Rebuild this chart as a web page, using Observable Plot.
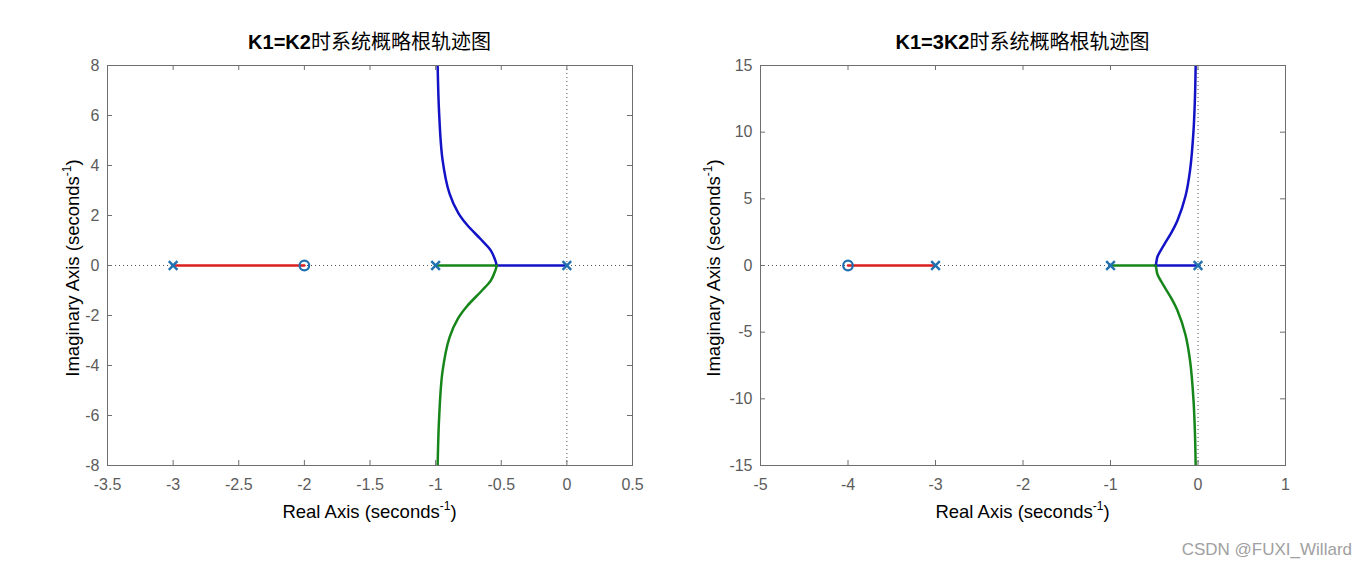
<!DOCTYPE html>
<html>
<head>
<meta charset="utf-8">
<script src="https://cdn.jsdelivr.net/npm/d3@7"></script>
<script src="https://cdn.jsdelivr.net/npm/@observablehq/plot@0.6"></script>
<style>
  html, body { margin: 0; padding: 0; background: #fff; }
  #root { position: relative; width: 1366px; height: 570px; overflow: hidden; font-family: "Liberation Sans", Arial, sans-serif; }
  .panel { position: absolute; top: 0; }
  .title { position: absolute; top: 40px; transform: translate(-50%, -50%); white-space: nowrap; font-size: 20px; color: #000; }
  .title b { font-family: "Liberation Sans", Arial, sans-serif; font-weight: bold; }
  .title span { font-family: "Noto Sans CJK SC", sans-serif; font-weight: 400; }
  .xlabel { position: absolute; top: 512px; transform: translate(-50%, -50%); white-space: nowrap; font-size: 18.5px; color: #000; }
  .ylabel { position: absolute; top: 268px; transform: translate(-50%, -50%) rotate(-90deg); white-space: nowrap; font-size: 18.5px; color: #000; }
  sup { font-size: 12px; vertical-align: 8px; line-height: 0; }
  .wm { position: absolute; right: 14px; top: 540px; font-size: 17px; color: #a0a0a0; font-family: "Liberation Sans", Arial, sans-serif; }
</style>
</head>
<body>
<div id="root"></div>
<script>
// ---------- Data ----------
// Left panel: K1 = K2
const leftTitleBold = "K1=K2";
const leftTitleRest = "时系统概略根轨迹图";
const leftXTicks = [-3.5, -3, -2.5, -2, -1.5, -1, -0.5, 0, 0.5];
const leftYTicks = [-8, -6, -4, -2, 0, 2, 4, 6, 8];
const leftPoles = [0, -1, -3];
const leftZeros = [-2];
const leftRedX = [-3, -2];
const leftGreenRealX = [-1, -0.534];
const leftBlueRealX = [0, -0.534];
const leftCurveX = [-0.534, -0.546, -0.580, -0.652, -0.761, -0.828, -0.894, -0.948, -0.974, -0.9844, -0.9855];
const leftBlueUpY = [0, 0.214, 0.607, 1.029, 1.628, 2.106, 2.871, 4.257, 6.17, 7.94, 8.25];
const leftGreenDownY = [0, -0.214, -0.607, -1.029, -1.628, -2.106, -2.871, -4.257, -6.17, -7.94, -8.25];

// Right panel: K1 = 3K2
const rightTitleBold = "K1=3K2";
const rightTitleRest = "时系统概略根轨迹图";
const rightXTicks = [-5, -4, -3, -2, -1, 0, 1];
const rightYTicks = [-15, -10, -5, 0, 5, 10, 15];
const rightPoles = [0, -1, -3];
const rightZeros = [-4];
const rightRedX = [-3, -4];
const rightGreenRealX = [-1, -0.485];
const rightBlueRealX = [0, -0.485];
const rightCurveX = [-0.485, -0.478, -0.4635, -0.39, -0.309, -0.236, -0.1435, -0.089, -0.051, -0.034, -0.026];
const rightBlueUpY = [0, 0.17, 0.66, 1.53, 2.41, 3.36, 5.19, 7.23, 10.13, 12.76, 15.26];
const rightGreenDownY = [0, -0.17, -0.66, -1.53, -2.41, -3.36, -5.19, -7.23, -10.13, -12.76, -15.26];

const xLabelText = "Real Axis (seconds";
const yLabelText = "Imaginary Axis (seconds";
const watermark = "CSDN @FUXI_Willard";

// ---------- Styles ----------
const RED = "#dc1f1f", GREEN = "#17861a", BLUE = "#1212c6", MARK = "#2170b0";
const FRAME = "#6e6e6e", TICKTEXT = "#5c5c5c";

function panel(cfg) {
  const straight = [];
  const curves = [];
  cfg.redX.forEach(x => straight.push({x, y: 0, b: "red", c: RED}));
  cfg.greenRealX.forEach(x => straight.push({x, y: 0, b: "greenR", c: GREEN}));
  cfg.blueRealX.forEach(x => straight.push({x, y: 0, b: "blueR", c: BLUE}));
  cfg.curveX.forEach((x, i) => curves.push({x, y: cfg.blueUpY[i], b: "blueC", c: BLUE}));
  cfg.curveX.forEach((x, i) => curves.push({x, y: cfg.greenDownY[i], b: "greenC", c: GREEN}));
  const fmt = d => String(d);
  const plotH = 570 - 65 - 105;
  const plotW = 525;
  return Plot.plot({
    width: 683, height: 570,
    marginTop: 65, marginBottom: 105, marginLeft: cfg.ml, marginRight: 683 - cfg.ml - plotW,
    style: {fontFamily: "'Liberation Sans', Arial, sans-serif", background: "#fff", overflow: "visible"},
    x: {domain: cfg.xDomain, ticks: cfg.xTicks},
    y: {domain: cfg.yDomain, ticks: cfg.yTicks},
    marks: [
      Plot.ruleY([0], {stroke: "#555", strokeWidth: 1, strokeDasharray: "1,3"}),
      Plot.ruleX([0], {stroke: "#555", strokeWidth: 1, strokeDasharray: "1,3"}),
      Plot.line(straight, {x: "x", y: "y", z: "b", stroke: "c", strokeWidth: 2.5, clip: true}),
      Plot.line(curves, {x: "x", y: "y", z: "b", stroke: "c", strokeWidth: 2.5, curve: "catmull-rom", clip: true}),
      Plot.dot(cfg.poles, {x: d => d, y: () => 0, symbol: "times", r: 4, stroke: MARK, strokeWidth: 2.4}),
      Plot.dot(cfg.zeros, {x: d => d, y: () => 0, symbol: "circle", r: 4.8, stroke: MARK, fill: "none", strokeWidth: 2.2}),
      Plot.frame({stroke: FRAME, strokeWidth: 1}),
      Plot.ruleX(cfg.xTicks, {x: d => d, stroke: FRAME, insetTop: plotH - 5}),
      Plot.ruleX(cfg.xTicks, {x: d => d, stroke: FRAME, insetBottom: plotH - 5}),
      Plot.ruleY(cfg.yTicks, {y: d => d, stroke: FRAME, insetRight: plotW - 5}),
      Plot.ruleY(cfg.yTicks, {y: d => d, stroke: FRAME, insetLeft: plotW - 5}),
      Plot.axisX({ticks: cfg.xTicks, tickSize: 0, tickPadding: 13, tickFormat: fmt, fontSize: 16, fill: TICKTEXT, label: null}),
      Plot.axisY({ticks: cfg.yTicks, tickSize: 0, tickPadding: 8, tickFormat: fmt, fontSize: 16, fill: TICKTEXT, label: null})
    ]
  });
}

const root = document.getElementById("root");

const panels = [
  {left: 0, ml: 107, xDomain: [-3.5, 0.5], yDomain: [-8, 8], xTicks: leftXTicks, yTicks: leftYTicks,
   poles: leftPoles, zeros: leftZeros, redX: leftRedX, greenRealX: leftGreenRealX, blueRealX: leftBlueRealX,
   curveX: leftCurveX, blueUpY: leftBlueUpY, greenDownY: leftGreenDownY, tb: leftTitleBold, tr: leftTitleRest, ylx: 73},
  {left: 683, ml: 77, xDomain: [-5, 1], yDomain: [-15, 15], xTicks: rightXTicks, yTicks: rightYTicks,
   poles: rightPoles, zeros: rightZeros, redX: rightRedX, greenRealX: rightGreenRealX, blueRealX: rightBlueRealX,
   curveX: rightCurveX, blueUpY: rightBlueUpY, greenDownY: rightGreenDownY, tb: rightTitleBold, tr: rightTitleRest, ylx: 714}
];

panels.forEach(cfg => {
  const svg = panel(cfg);
  svg.classList.add("panel");
  svg.style.left = cfg.left + "px";
  root.appendChild(svg);
  const cx = cfg.left + cfg.ml + 262.5;
  const t = document.createElement("div");
  t.className = "title";
  t.style.left = cx + "px";
  t.innerHTML = "<b>" + cfg.tb + "</b><span>" + cfg.tr + "</span>";
  root.appendChild(t);
  const xl = document.createElement("div");
  xl.className = "xlabel";
  xl.style.left = cx + "px";
  xl.innerHTML = xLabelText + "<sup>-1</sup>)";
  root.appendChild(xl);
  const yl = document.createElement("div");
  yl.className = "ylabel";
  yl.style.left = cfg.ylx + "px";
  yl.innerHTML = yLabelText + "<sup>-1</sup>)";
  root.appendChild(yl);
});

const wm = document.createElement("div");
wm.className = "wm";
wm.textContent = watermark;
root.appendChild(wm);
</script>
</body>
</html>
